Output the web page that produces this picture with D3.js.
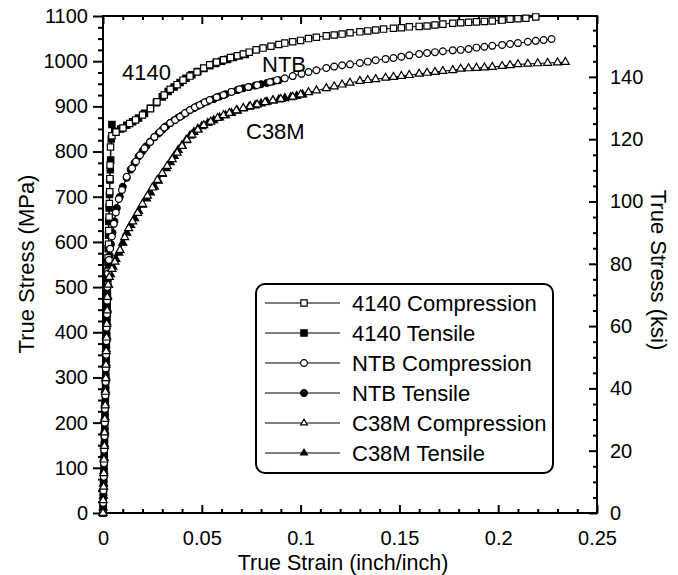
<!DOCTYPE html>
<html>
<head>
<meta charset="utf-8">
<script src="https://cdn.jsdelivr.net/npm/d3@7"></script>
<style>
  html, body { margin: 0; padding: 0; background: #fff; }
  svg { display: block; }
  text { font-family: "Liberation Sans", Arial, sans-serif; fill: #000; }
</style>
</head>
<body>
<svg id="chart" width="678" height="575"></svg>
<script>
// ---------------- DATA ----------------
const xTicks = [0, 0.05, 0.1, 0.15, 0.2, 0.25];
const xTickLabels = ["0", "0.05", "0.1", "0.15", "0.2", "0.25"];
const yTicks = [0, 100, 200, 300, 400, 500, 600, 700, 800, 900, 1000, 1100];
const ksiTicks = [0, 20, 40, 60, 80, 100, 120, 140];

const seriesNames = ["4140 Compression", "4140 Tensile", "NTB Compression", "NTB Tensile", "C38M Compression", "C38M Tensile"];
const curveLabels = ["4140", "NTB", "C38M"];

// [true strain, true stress MPa]
const s4140Comp = [[0,0],[0.0001,25],[0.0003,55],[0.0004,85],[0.0005,115],[0.0007,145],[0.0008,175],[0.0009,205],[0.0011,235],[0.0012,265],[0.0014,295],[0.0015,325],[0.0016,355],[0.0018,385],[0.0019,415],[0.0021,445],[0.0022,475],[0.0024,505],[0.0025,535],[0.0026,565],[0.0028,595],[0.0029,625],[0.0031,655],[0.0032,685],[0.0034,711],[0.0035,740],[0.0036,770],[0.0038,810],[0.0045,835],[0.0066,843],[0.0101,852],[0.0135,862],[0.0165,870],[0.020,881],[0.024,895],[0.0273,910],[0.031,925],[0.034,938],[0.0375,948],[0.0405,958],[0.044,967],[0.0476,976],[0.051,985],[0.054,992],[0.0575,998],[0.061,1003],[0.0645,1008],[0.068,1012],[0.071,1016],[0.074,1020],[0.0775,1025],[0.081,1029],[0.085,1033],[0.089,1037],[0.092,1040],[0.096,1043],[0.100,1046],[0.104,1050],[0.108,1053],[0.113,1056],[0.117,1058],[0.121,1060],[0.125,1063],[0.130,1065],[0.134,1067],[0.138,1069],[0.142,1071],[0.147,1073],[0.151,1074],[0.155,1076],[0.160,1077],[0.164,1078],[0.168,1080],[0.172,1082],[0.177,1084],[0.181,1085],[0.185,1086],[0.189,1087],[0.193,1088],[0.197,1089],[0.202,1091],[0.206,1093],[0.210,1094],[0.214,1095],[0.219,1098]];

const s4140Tens = [[0,0],[0.0001,18],[0.0002,45],[0.0004,75],[0.0005,105],[0.0006,135],[0.0008,165],[0.0009,195],[0.0010,225],[0.0012,255],[0.0013,285],[0.0014,315],[0.0016,345],[0.0017,375],[0.0018,405],[0.0020,435],[0.0021,465],[0.0022,495],[0.0024,525],[0.0025,555],[0.0026,585],[0.0028,615],[0.0029,645],[0.0031,675],[0.0033,705],[0.0035,737],[0.0037,760],[0.0039,781],[0.0042,828],[0.0045,860],[0.006,845],[0.009,850],[0.012,858],[0.015,866],[0.018,874],[0.021,885],[0.024,896],[0.027,908],[0.030,921],[0.033,933],[0.036,943],[0.039,953],[0.042,962],[0.045,970],[0.048,977],[0.051,984],[0.054,990],[0.057,995],[0.060,1000],[0.063,1004],[0.066,1008],[0.069,1012],[0.072,1015]];

const sNTBComp = [[0,0],[0.0001,22],[0.0002,50],[0.0004,80],[0.0005,110],[0.0006,140],[0.0008,170],[0.0009,200],[0.0010,230],[0.0012,260],[0.0013,290],[0.0014,320],[0.0016,350],[0.0017,380],[0.0018,410],[0.0020,440],[0.0021,470],[0.0022,500],[0.0025,530],[0.0030,560],[0.0036,585],[0.0045,612],[0.0055,640],[0.0065,665],[0.008,695],[0.0096,715],[0.012,744],[0.0147,763],[0.0167,778],[0.0187,792],[0.021,807],[0.0238,821],[0.026,832],[0.0288,843],[0.031,853],[0.034,863],[0.0365,870],[0.039,877],[0.0415,885],[0.044,892],[0.0465,898],[0.049,903],[0.0515,909],[0.054,914],[0.0575,920],[0.061,925],[0.065,932],[0.069,938],[0.0735,943],[0.078,947],[0.0845,954],[0.088,958],[0.092,962],[0.096,967],[0.1005,972],[0.104,976],[0.108,980],[0.113,985],[0.117,988],[0.121,991],[0.125,993],[0.130,996],[0.134,999],[0.138,1002],[0.143,1005],[0.147,1007],[0.151,1010],[0.155,1013],[0.160,1016],[0.164,1018],[0.168,1020],[0.172,1022],[0.177,1024],[0.181,1025],[0.185,1027],[0.189,1030],[0.193,1032],[0.197,1034],[0.202,1036],[0.206,1038],[0.210,1040],[0.215,1043],[0.219,1045],[0.223,1047],[0.227,1049]];

const sNTBTens = [[0,0],[0.0001,15],[0.0002,40],[0.0003,68],[0.0005,95],[0.0006,125],[0.0007,155],[0.0009,185],[0.0010,215],[0.0011,245],[0.0013,275],[0.0014,305],[0.0015,335],[0.0017,365],[0.0018,395],[0.0019,425],[0.0021,455],[0.0022,485],[0.0024,515],[0.0028,545],[0.0034,570],[0.0040,595],[0.0048,620],[0.0058,645],[0.007,675],[0.0085,700],[0.010,722],[0.012,742],[0.014,760],[0.016,775],[0.018,789],[0.020,801],[0.022,812],[0.024,822],[0.026,832],[0.028,840],[0.030,848],[0.032,856],[0.034,863],[0.036,869],[0.038,875],[0.040,880],[0.042,886],[0.044,892],[0.046,896],[0.048,901],[0.050,905],[0.053,911],[0.056,916],[0.059,922],[0.062,927],[0.065,932],[0.068,936],[0.071,940],[0.074,943],[0.077,946],[0.080,949],[0.083,952],[0.086,955],[0.089,958]];

const sC38MComp = [[0,0],[0.0001,28],[0.0003,58],[0.0004,88],[0.0005,118],[0.0007,148],[0.0008,178],[0.0009,208],[0.0011,238],[0.0012,268],[0.0014,298],[0.0015,328],[0.0016,358],[0.0018,388],[0.0019,418],[0.0021,448],[0.0022,478],[0.0026,505],[0.0032,522],[0.0045,540],[0.006,556],[0.0086,582],[0.011,610],[0.013,630],[0.015,645],[0.0175,664],[0.020,684],[0.0225,702],[0.025,720],[0.0275,737],[0.030,752],[0.0325,768],[0.035,783],[0.0375,797],[0.040,812],[0.0425,826],[0.045,837],[0.048,848],[0.051,858],[0.0545,866],[0.058,874],[0.061,880],[0.064,885],[0.0675,891],[0.071,896],[0.0745,900],[0.078,904],[0.082,909],[0.086,913],[0.090,916],[0.096,921],[0.100,926],[0.104,931],[0.108,935],[0.113,940],[0.117,944],[0.121,948],[0.125,952],[0.130,956],[0.134,958],[0.138,960],[0.143,963],[0.147,965],[0.151,967],[0.155,969],[0.160,972],[0.164,974],[0.168,976],[0.172,978],[0.177,980],[0.181,983],[0.185,984],[0.189,985],[0.193,986],[0.197,987],[0.202,989],[0.206,991],[0.210,993],[0.215,994],[0.220,995],[0.225,996],[0.230,997],[0.234,998]];

const sC38MTens = [[0,0],[0.0001,12],[0.0002,38],[0.0003,65],[0.0004,92],[0.0006,122],[0.0007,152],[0.0008,182],[0.0010,212],[0.0011,242],[0.0012,272],[0.0014,302],[0.0015,332],[0.0016,362],[0.0018,392],[0.0019,422],[0.0021,452],[0.0023,480],[0.0028,505],[0.0038,528],[0.005,545],[0.0065,562],[0.008,576],[0.010,598],[0.012,620],[0.014,637],[0.016,652],[0.018,668],[0.020,682],[0.022,696],[0.024,709],[0.026,722],[0.028,735],[0.030,750],[0.032,763],[0.034,776],[0.036,790],[0.038,803],[0.040,814],[0.042,825],[0.044,835],[0.046,843],[0.048,850],[0.050,856],[0.053,863],[0.056,869],[0.059,875],[0.062,880],[0.065,885],[0.068,890],[0.071,895],[0.074,899],[0.077,902],[0.080,906],[0.083,910],[0.086,913],[0.089,915],[0.092,918],[0.095,920],[0.098,923],[0.101,926]];

const seriesData = [s4140Comp, s4140Tens, sNTBComp, sNTBTens, sC38MComp, sC38MTens];
const seriesShapes = ["square", "square", "circle", "circle", "triangle", "triangle"];
const seriesFilled = [false, true, false, true, false, true];

// ---------------- LAYOUT ----------------
const svg = d3.select("#chart");
const L = 103, R = 597, T = 16, B = 513;
const MPA_PER_KSI = 6.89476;

const x = d3.scaleLinear().domain([0, 0.25]).range([L, R]);
const y = d3.scaleLinear().domain([0, 1100]).range([B, T]);
const yk = d3.scaleLinear().domain([0, 1100 / MPA_PER_KSI]).range([B, T]);

const FS = 20;

function styleAxis(g) {
  g.select(".domain").remove();
  g.selectAll(".tick line").attr("stroke", "#000").attr("stroke-width", 2);
  g.selectAll(".tick text").attr("font-size", FS).attr("font-family", "Liberation Sans, Arial, sans-serif").attr("fill", "#000");
}

const xMinor = d3.range(0, 0.2501, 0.01).filter(v => xTicks.every(t => Math.abs(t - v) > 1e-9));
const yMinor = d3.range(0, 1101, 25).filter(v => v % 100 !== 0);
const ksiMinor = d3.range(0, 160, 5).filter(v => v % 20 !== 0);

// bottom axis (ticks inward)
svg.append("g").attr("transform", `translate(0,${B})`)
  .call(d3.axisBottom(x).tickValues(xTicks).tickSize(-8).tickPadding(18).tickFormat((d, i) => xTickLabels[i]))
  .call(styleAxis);
svg.append("g").attr("transform", `translate(0,${B})`)
  .call(d3.axisBottom(x).tickValues(xMinor).tickSize(-4).tickFormat(""))
  .call(styleAxis);
// top axis (ticks inward)
svg.append("g").attr("transform", `translate(0,${T})`)
  .call(d3.axisTop(x).tickValues(xTicks).tickSize(-8).tickFormat(""))
  .call(styleAxis);
svg.append("g").attr("transform", `translate(0,${T})`)
  .call(d3.axisTop(x).tickValues(xMinor).tickSize(-4).tickFormat(""))
  .call(styleAxis);
// left axis (ticks outward)
svg.append("g").attr("transform", `translate(${L},0)`)
  .call(d3.axisLeft(y).tickValues(yTicks).tickSize(10).tickPadding(5).tickFormat(d3.format("d")))
  .call(styleAxis);
svg.append("g").attr("transform", `translate(${L},0)`)
  .call(d3.axisLeft(y).tickValues(yMinor).tickSize(5).tickFormat(""))
  .call(styleAxis);
// right axis ksi (ticks inward)
svg.append("g").attr("transform", `translate(${R},0)`)
  .call(d3.axisRight(yk).tickValues(ksiTicks).tickSize(-8).tickPadding(13).tickFormat(d3.format("d")))
  .call(styleAxis);
svg.append("g").attr("transform", `translate(${R},0)`)
  .call(d3.axisRight(yk).tickValues(ksiMinor).tickSize(-4).tickFormat(""))
  .call(styleAxis);

// frame
svg.append("rect").attr("x", L).attr("y", T).attr("width", R - L).attr("height", B - T)
  .attr("fill", "none").attr("stroke", "#000").attr("stroke-width", 2);

// axis titles
svg.append("text").attr("x", (L + R) / 2 - 7).attr("y", 570).attr("text-anchor", "middle")
  .attr("font-size", 21.5).text("True Strain (inch/inch)");
svg.append("text").attr("transform", "translate(34,264) rotate(-90)").attr("text-anchor", "middle")
  .attr("font-size", 22).text("True Stress (MPa)");
svg.append("text").attr("transform", "translate(651,270) rotate(90)").attr("text-anchor", "middle")
  .attr("font-size", 22).text("True Stress (ksi)");

// ---------------- SERIES ----------------
const symType = { square: d3.symbolSquare, circle: d3.symbolCircle, triangle: d3.symbolTriangle };
const symSize = { square: 40, circle: 36, triangle: 28 };
const line = d3.line().x(d => x(d[0])).y(d => y(d[1]));

const plot = svg.append("g");
seriesData.forEach((data, i) => {
  plot.append("path").datum(data).attr("d", line)
    .attr("fill", "none").attr("stroke", "#000").attr("stroke-width", 1);
});
// draw tensile first then compression markers
[1, 3, 5, 0, 2, 4].forEach(i => {
  const sym = d3.symbol().type(symType[seriesShapes[i]]).size(symSize[seriesShapes[i]]);
  plot.append("g").selectAll("path").data(seriesData[i]).join("path")
    .attr("transform", d => `translate(${x(d[0])},${y(d[1])})`)
    .attr("d", sym)
    .attr("fill", seriesFilled[i] ? "#000" : "#fff")
    .attr("stroke", "#000").attr("stroke-width", 1.2);
});

// curve labels
const labelPos = [[122, 80], [262, 72], [246, 139]];
curveLabels.forEach((t, i) => {
  svg.append("text").attr("x", labelPos[i][0]).attr("y", labelPos[i][1]).attr("font-size", 22).text(t);
});

// ---------------- LEGEND ----------------
const lg = svg.append("g");
lg.append("rect").attr("x", 256).attr("y", 284).attr("width", 297).attr("height", 189)
  .attr("rx", 9).attr("ry", 9).attr("fill", "#fff").attr("stroke", "#000").attr("stroke-width", 2);
const legSize = { square: 40, circle: 36, triangle: 20 };
seriesNames.forEach((name, i) => {
  const yy = 303 + i * 30;
  lg.append("line").attr("x1", 265).attr("x2", 340).attr("y1", yy).attr("y2", yy)
    .attr("stroke", "#000").attr("stroke-width", 1);
  lg.append("path").attr("transform", `translate(304,${yy})`)
    .attr("d", d3.symbol().type(symType[seriesShapes[i]]).size(legSize[seriesShapes[i]]))
    .attr("fill", seriesFilled[i] ? "#000" : "#fff").attr("stroke", "#000").attr("stroke-width", 1.2);
  lg.append("text").attr("x", 352).attr("y", yy).attr("dy", "0.36em").attr("font-size", 22).text(name);
});
</script>
</body>
</html>
